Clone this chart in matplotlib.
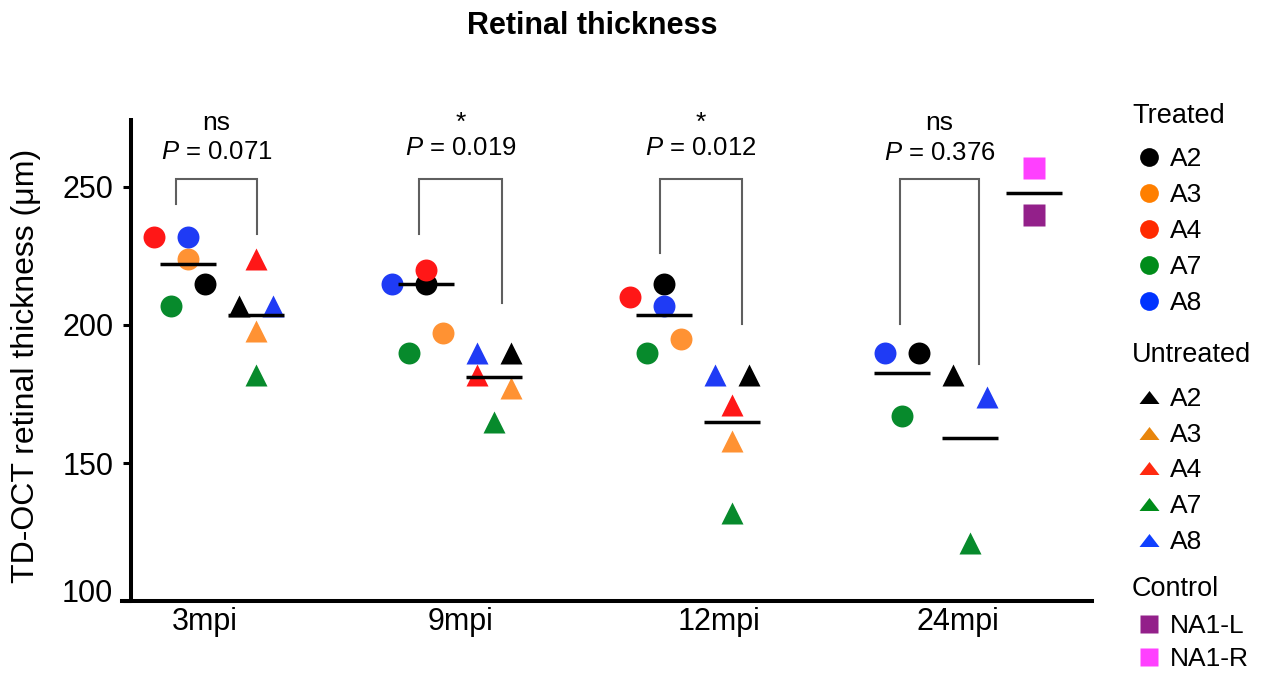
import numpy as np
import matplotlib
matplotlib.use("Agg")
import matplotlib.pyplot as plt
from matplotlib.transforms import ScaledTranslation

plt.rcParams["font.family"] = ["Liberation Sans", "DejaVu Sans"]
plt.rcParams["mathtext.fontset"] = "custom"
plt.rcParams["mathtext.it"] = "Liberation Sans:italic"
plt.rcParams["mathtext.rm"] = "Liberation Sans"

# ---- data ----
animals = ["A2", "A3", "A4", "A7", "A8"]
timepoints = ["3mpi", "9mpi", "12mpi", "24mpi"]

treated_vals = [
    [215, 224, 232, 207, 232],
    [215, 197, 220, 190, 215],
    [215, 195, 210, 190, 207],
    [190, None, None, 167, 190],
]
untreated_vals = [
    [207, 198, 224, 182, 207],
    [190, 177, 182, 165, 190],
    [182, 158, 171, 132, 182],
    [182, None, None, 121, 174],
]
treated_mean = [222, 215, 203.5, 182.5]
untreated_mean = [203.5, 181, 165, 159]

control_labels = ["NA1-L", "NA1-R"]
control_vals = [240, 257]
control_mean = 248

sig_labels = ["ns", "*", "*", "ns"]
p_values = ["0.071", "0.019", "0.012", "0.376"]
bracket_top = 253
bracket_left_end = [244, 233, 226, 200.5]
bracket_right_end = [233, 208, 200.5, 186]

# ---- styling / layout ----
plot_colors = ["#000000", "#FF9233", "#FF1717", "#078A2C", "#1F3BF5"]
leg_treated_colors = ["#000000", "#FF7F00", "#FF2A00", "#008C1A", "#0033FF"]
leg_untreated_colors = ["#000000", "#E8850C", "#FF2A10", "#008C1A", "#1040FF"]
control_colors = ["#93208A", "#FF40FF"]

# horizontal jitter slots of each animal inside its cloud
treated_slot = [[1, 0, -2, -1, 0], [0, 1, 0, -1, -2], [0, 1, -2, -1, 0], [1, 0, 0, 0, -1]]
untreated_slot = [[-1, 0, 0, 0, 1], [1, 1, -1, 0, -1], [1, 0, 0, 0, -1], [-1, 0, 0, 0, 1]]
slot = 0.0714
x_tc = np.arange(4, dtype=float)
x_uc = x_tc + 0.286
x_ctrl = 3.555
half = 0.118
br_left = [-0.050, 0.971, 1.983, 2.992]
br_right = [0.290, 1.319, 2.328, 3.324]
tick_pos = [0.071, 1.143, 2.231, 3.235]
p_base = [260.1, 261.6, 261.6, 259.8]

fig = plt.figure(figsize=(12.65, 6.75), dpi=100)
ax = fig.add_axes([122 / 1265, 1 - 601 / 675, 970 / 1265, 483 / 675])

ms = 15.8
for g in range(4):
    for k in range(5):
        v = treated_vals[g][k]
        if v is not None:
            ax.plot(x_tc[g] + slot * treated_slot[g][k], v, "o", ms=ms,
                    color=plot_colors[k], mec="none", zorder=3)
        v = untreated_vals[g][k]
        if v is not None:
            ax.plot(x_uc[g] + slot * untreated_slot[g][k], v, "^", ms=ms,
                    color=plot_colors[k], mec="none", zorder=3)

for k in range(2):
    ax.plot(x_ctrl, control_vals[k], "s", ms=ms, color=control_colors[k],
            mec="none", zorder=3)

ax.hlines(treated_mean, x_tc - half, x_tc + half, color="k", lw=2.5, zorder=4)
ax.hlines(untreated_mean, x_uc - half, x_uc + half, color="k", lw=2.5, zorder=4)
ax.hlines(control_mean, x_ctrl - half, x_ctrl + half, color="k", lw=2.5, zorder=4)

for g in range(4):
    ax.plot([br_left[g], br_left[g], br_right[g], br_right[g]],
            [bracket_left_end[g], bracket_top, bracket_top, bracket_right_end[g]],
            color="#5f5f5f", lw=1.5, zorder=2, solid_joinstyle="miter")
    xc = (br_left[g] + br_right[g]) / 2
    ax.text(xc, 270.6, sig_labels[g], ha="center", va="baseline", fontsize=19)
    ax.text(xc, p_base[g], "$P$ = " + p_values[g], ha="center", va="baseline",
            fontsize=18.5)

ax.set_xlim(-0.277, 3.798)
ax.set_ylim(100, 275)
for s in ["top", "right"]:
    ax.spines[s].set_visible(False)
ax.spines["left"].set_linewidth(2.9)
ax.spines["bottom"].set_linewidth(2.9)
ax.spines["left"].set_position(("axes", 9 / 970))
ax.spines["left"].set_capstyle("butt")

ax.set_yticks([100, 150, 200, 250])
ax.set_xticks(tick_pos)
ax.set_xticklabels(timepoints)
ax.tick_params(axis="y", direction="out", length=5.8, width=2.2, labelsize=22, pad=7)
ax.tick_params(axis="x", length=0, labelsize=22, pad=4)
lbl = ax.yaxis.get_major_ticks()[0].label1
lbl.set_transform(lbl.get_transform() + ScaledTranslation(0, 0.11, fig.dpi_scale_trans))

ax.set_ylabel("TD-OCT retinal thickness (μm)", fontsize=23)
ax.yaxis.set_label_coords(-0.083, 0.4865)

fig.text(592.5 / 1265, 1 - 33.5 / 675, "Retinal thickness", ha="center",
         va="baseline", fontsize=22, fontweight="bold")

# ---- legend drawn by hand in pixel coordinates ----
lax = fig.add_axes([0, 0, 1, 1])
lax.set_xlim(0, 1265)
lax.set_ylim(675, 0)
lax.axis("off")
lax.patch.set_visible(False)

tri_leg = [(-1, -0.65), (1, -0.65), (0, 0.65)]
groups = [
    ("Treated", 113, 157, 36.0, "o", 13.5, animals, leg_treated_colors),
    ("Untreated", 352, 397, 35.7, tri_leg, 14.4, animals, leg_untreated_colors),
    ("Control", 586, 624, 33.0, "s", 13.0, control_labels, control_colors),
]
for title, ty, y0, step, mk, mks, labels, cols in groups:
    lax.text(1132, ty + 10, title, ha="left", va="baseline", fontsize=19.5)
    for i, (lab, c) in enumerate(zip(labels, cols)):
        y = y0 + step * i
        lax.plot(1149, y, marker=mk, ms=mks, color=c, mec="none", ls="none")
        lax.text(1170, y + 9, lab, ha="left", va="baseline", fontsize=19)

fig.savefig("out.png", dpi=100)
